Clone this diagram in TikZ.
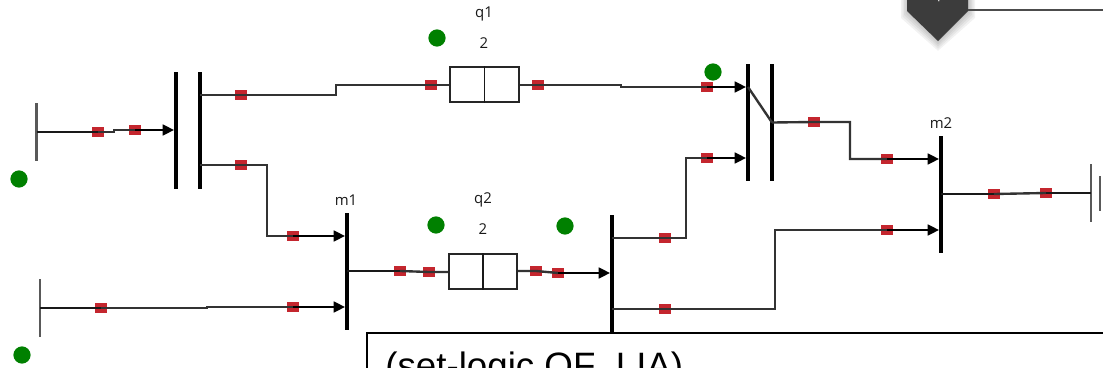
\documentclass[tikz,border=0pt]{standalone}
\usepackage{fontspec}
\setmainfont{Open Sans}
\newfontfamily\boxfont{Liberation Sans}
\usetikzlibrary{arrows.meta}
\definecolor{markerred}{HTML}{C4262E}
\definecolor{tokengreen}{HTML}{008000}
\definecolor{badgegray}{HTML}{3C3C3C}
\tikzset{
    bar/.style={fill=black, inner sep=0pt, minimum width=1.9pt, minimum height=66.3pt},
    endbar/.style={fill=black!65, inner sep=0pt, minimum width=1.2pt, minimum height=33pt},
    marker/.style={fill=markerred, inner sep=0pt, minimum width=6.4pt, minimum height=6pt},
    place/.style={draw=black!85, fill=white, line width=1pt, inner sep=0pt, minimum width=39pt, minimum height=19.6pt},
    token/.style={circle, fill=tokengreen, inner sep=0pt, minimum size=9.8pt},
    label/.style={font=\fontsize{8.5}{10}\selectfont, text=black!90, inner sep=0pt},
    wire/.style={draw=black!80, line width=1.35pt},
    thinwire/.style={draw=black!90, line width=1pt},
    arc/.style={draw=black, line width=1.1pt, -{Triangle[length=6.4pt, width=6.2pt]}}
}
\begin{document}
\begin{tikzpicture}[x=0.02cm, y=-0.02cm]
    \useasboundingbox (0, 0) rectangle (1103, 368);
    \clip (0, 0) rectangle (1103, 368);

    % bars
    \node[endbar] (s1) at (36.5, 132) {};
    \node[endbar] (s2) at (40, 308) {};
    \node[bar] (t1a) at (176, 130.5) {};
    \node[bar] (t1b) at (200, 130.5) {};
    \node[bar] (m1) at (347, 271.5) {};
    \node[bar] (t2) at (612, 273.5) {};
    \node[bar] (t3a) at (748, 122.5) {};
    \node[bar] (t3b) at (772, 122.5) {};
    \node[bar] (m2) at (941, 194.5) {};
    \node[endbar] (s3) at (1091, 193) {};
    \node[endbar, minimum height=20pt] (s4) at (1100, 193.5) {};

    % places
    \node[place] (q1) at (484.5, 84.5) {};
    \node[place] (q2) at (483, 271.5) {};
    \draw[thinwire] (q1.north) -- (q1.south);
    \draw[thinwire] (q2.north) -- (q2.south);

    % red markers
    \node[marker] (a1) at (98, 132) {};
    \node[marker] (a2) at (135, 130) {};
    \node[marker] (b1) at (241, 95) {};
    \node[marker] (b2) at (431, 85) {};
    \node[marker] (b3) at (538, 85) {};
    \node[marker] (b4) at (707, 87) {};
    \node[marker] (c1) at (241, 165) {};
    \node[marker] (c2) at (293, 236) {};
    \node[marker] (d1) at (101, 308) {};
    \node[marker] (d2) at (293, 307) {};
    \node[marker] (e1) at (400, 271) {};
    \node[marker] (e2) at (429, 272) {};
    \node[marker] (e3) at (536, 271) {};
    \node[marker] (e4) at (558, 273) {};
    \node[marker] (f1) at (665, 238) {};
    \node[marker] (f2) at (707, 158) {};
    \node[marker] (g1) at (665, 309) {};
    \node[marker] (g2) at (887, 230) {};
    \node[marker] (h1) at (814, 122) {};
    \node[marker] (h2) at (887, 159) {};
    \node[marker] (i1) at (994, 194) {};
    \node[marker] (i2) at (1046, 193) {};

    % connectors
    \draw[thinwire] (s1.center |- a1) -- (a1.center);
    \draw[wire] (a1.center) -- (114, 132) -- (114, 130) -- (a2.center);
    \draw[arc] (a2.center) -- (a2 -| t1a.west);
    \draw[wire] (t1b.center |- b1) -- (b1.center) -- (336, 95) -- (336, 85) -- (b2.center) -- (b2 -| q1.west);
    \draw[wire] (b3 -| q1.east) -- (b3.center) -- (621, 85) -- (621, 87) -- (b4.center);
    \draw[arc] (b4.center) -- (b4 -| t3a.west);
    \draw[wire] (t1b.center |- c1) -- (c1.center) -- (267, 165) -- (267, 236) -- (c2.center);
    \draw[arc] (c2.center) -- (c2 -| m1.west);
    \draw[thinwire] (s2.center |- d1) -- (d1.center);
    \draw[wire] (d1.center) -- (207, 308) -- (207, 307) -- (d2.center);
    \draw[arc] (d2.center) -- (d2 -| m1.west);
    \draw[thinwire] (m1.center |- e1) -- (e1.center);
    \draw[wire] (e1.center) -- (e2.center) -- (e2 -| q2.west);
    \draw[wire] (e3 -| q2.east) -- (e3.center) -- (e4.center);
    \draw[arc] (e4.center) -- (e4 -| t2.west);
    \draw[wire] (t2.center |- f1) -- (f1.center) -- (686, 238) -- (686, 158) -- (f2.center);
    \draw[arc] (f2.center) -- (f2 -| t3a.west);
    \draw[wire] (t2.center |- g1) -- (g1.center) -- (775, 309) -- (775, 230) -- (g2.center);
    \draw[arc] (g2.center) -- (g2 -| m2.west);
    \draw[wire] (t3a.center |- b4) -- (t3b.center);
    \draw[wire] (t3b.center) -- (h1.center) -- (850, 122) -- (850, 159) -- (h2.center);
    \draw[arc] (h2.center) -- (h2 -| m2.west);
    \draw[thinwire] (m2.center |- i1) -- (i1.center);
    \draw[wire] (i1.center) -- (i2.center);
    \draw[thinwire] (i2.center) -- (i2 -| s3.center);

    % tokens
    \node[token] (t-a) at (19, 179) {};
    \node[token] (t-b) at (22, 355) {};
    \node[token] (t-c) at (437, 38) {};
    \node[token] (t-d) at (436, 225) {};
    \node[token] (t-e) at (565, 226) {};
    \node[token] (t-f) at (713, 72) {};

    % labels
    \node[label] (l-m1) at (346, 200) {m1};
    \node[label] (l-q1) at (484, 14) {q1};
    \node[label] (n-q1) at (484, 43) {2};
    \node[label] (l-q2) at (483, 200) {q2};
    \node[label] (n-q2) at (483, 229) {2};
    \node[label] (l-m2) at (941, 123) {m2};

    % badge and text box cut by the frame
    \foreach \grow in {7, 5.5, 4, 2.5, 1}
        \fill[black, opacity=0.05] (908-\grow, -2) -- (908-\grow, 11+\grow) -- (938, 41+1.4*\grow) -- (968+\grow, 11+\grow) -- (968+\grow, -2) -- cycle;
    \fill[badgegray] (907, -2) -- (907, 11) -- (938, 41) -- (968, 11) -- (968, -2) -- cycle;
    \node[white, font=\fontsize{9}{10}\selectfont, inner sep=0pt] (badge) at (939, -1) {+};
    \coordinate (rail) at (1110, 10);
    \draw[draw=black!70, line width=1.2pt] (968, 10) -- (rail);
    \node[draw=black, fill=white, line width=1.2pt, minimum width=431pt, minimum height=34pt, anchor=north west, inner sep=0pt] (smt) at (366, 331.5) {};
    \node[anchor=base west, inner sep=0pt, font=\boxfont\fontsize{20.9}{24}\selectfont] (smt-text) at (385, 378) {(set-logic QF\_LIA)};
\end{tikzpicture}
\end{document}
